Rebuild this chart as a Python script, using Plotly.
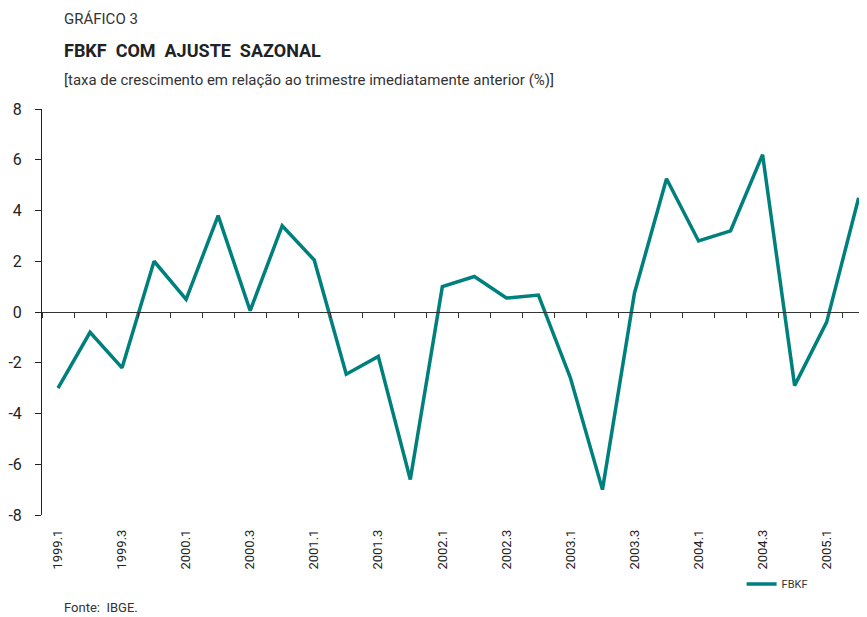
import plotly.graph_objects as go

quarters = ["1999.1","1999.2","1999.3","1999.4","2000.1","2000.2","2000.3","2000.4",
            "2001.1","2001.2","2001.3","2001.4","2002.1","2002.2","2002.3","2002.4",
            "2003.1","2003.2","2003.3","2003.4","2004.1","2004.2","2004.3","2004.4",
            "2005.1","2005.2"]
fbkf = [-3.0, -0.8, -2.2, 2.0, 0.5, 3.8, 0.05, 3.4,
        2.05, -2.45, -1.75, -6.6, 1.0, 1.4, 0.55, 0.67,
        -2.6, -7.0, 0.75, 5.25, 2.8, 3.2, 6.2, -2.9,
        -0.4, 4.5]
y_ticks = [-8, -6, -4, -2, 0, 2, 4, 6, 8]
y_tick_text = ["-8", "-6", "-4", "-2", "0", "2", "4", "6", "8"]

FONT = "Roboto, sans-serif"
TEAL = "#00807C"

idx = list(range(len(quarters)))
label_idx = idx[::2]
label_txt = [quarters[i] for i in label_idx]
boundaries = [i - 0.5 for i in idx]

fig = go.Figure()
fig.add_trace(go.Scatter(x=idx, y=fbkf, mode="lines", name="FBKF",
                         line=dict(color=TEAL, width=3.5)))
fig.add_trace(go.Scatter(x=idx, y=fbkf, xaxis="x2", mode="lines",
                         line=dict(color="rgba(0,0,0,0)"), showlegend=False, hoverinfo="skip"))

xr = [-0.5, 25.26]
fig.update_layout(
    width=859, height=609,
    margin=dict(l=32, r=0, t=101, b=102),
    paper_bgcolor="white", plot_bgcolor="white",
    font=dict(family=FONT, color="#222"),
    showlegend=True,
    legend=dict(x=0.848, y=-0.17, xanchor="left", yanchor="middle",
                font=dict(size=11, family=FONT, color="#333"),
                bgcolor="rgba(0,0,0,0)"),
    xaxis=dict(range=xr, anchor="free", position=0.5, showline=True, linecolor="#333",
               linewidth=1, ticks="outside", tickvals=boundaries, ticklen=5, tickcolor="#333",
               showticklabels=False, showgrid=False, zeroline=False),
    xaxis2=dict(range=xr, overlaying="x", side="bottom", anchor="y", showline=False,
                tickvals=label_idx, ticktext=label_txt, tickangle=-90, ticks="",
                ticklabelstandoff=11, tickfont=dict(size=13, family=FONT, color="#222"),
                showgrid=False, zeroline=False),
    yaxis=dict(range=[-8, 8], tickvals=y_ticks, ticktext=y_tick_text, showline=True,
               linecolor="#222", linewidth=1,
               ticks="outside", ticklen=6, tickcolor="#222", ticklabelstandoff=10,
               tickfont=dict(size=16, family=FONT, color="#222"),
               showgrid=False, zeroline=False),
)

def px_to_paper_y(p):
    return (515 - p) / 406

ann = [
    dict(text="GRÁFICO 3", y=px_to_paper_y(19), font=dict(size=15, color="#333")),
    dict(text="<b>FBKF  COM  AJUSTE  SAZONAL</b>", y=px_to_paper_y(50), font=dict(size=18, color="#222")),
    dict(text="[taxa de crescimento em relação ao trimestre imediatamente anterior (%)]",
         y=px_to_paper_y(80), font=dict(size=15, color="#333")),
    dict(text="Fonte:  IBGE.", y=px_to_paper_y(607), font=dict(size=13, color="#333")),
]
for a in ann:
    fig.add_annotation(x=(60 - 40) / 827, y=a["y"], xref="paper", yref="paper", xanchor="left",
                       yanchor="middle", showarrow=False, text=a["text"],
                       font=dict(family=FONT, **a["font"]))

fig.write_html("out.html")
